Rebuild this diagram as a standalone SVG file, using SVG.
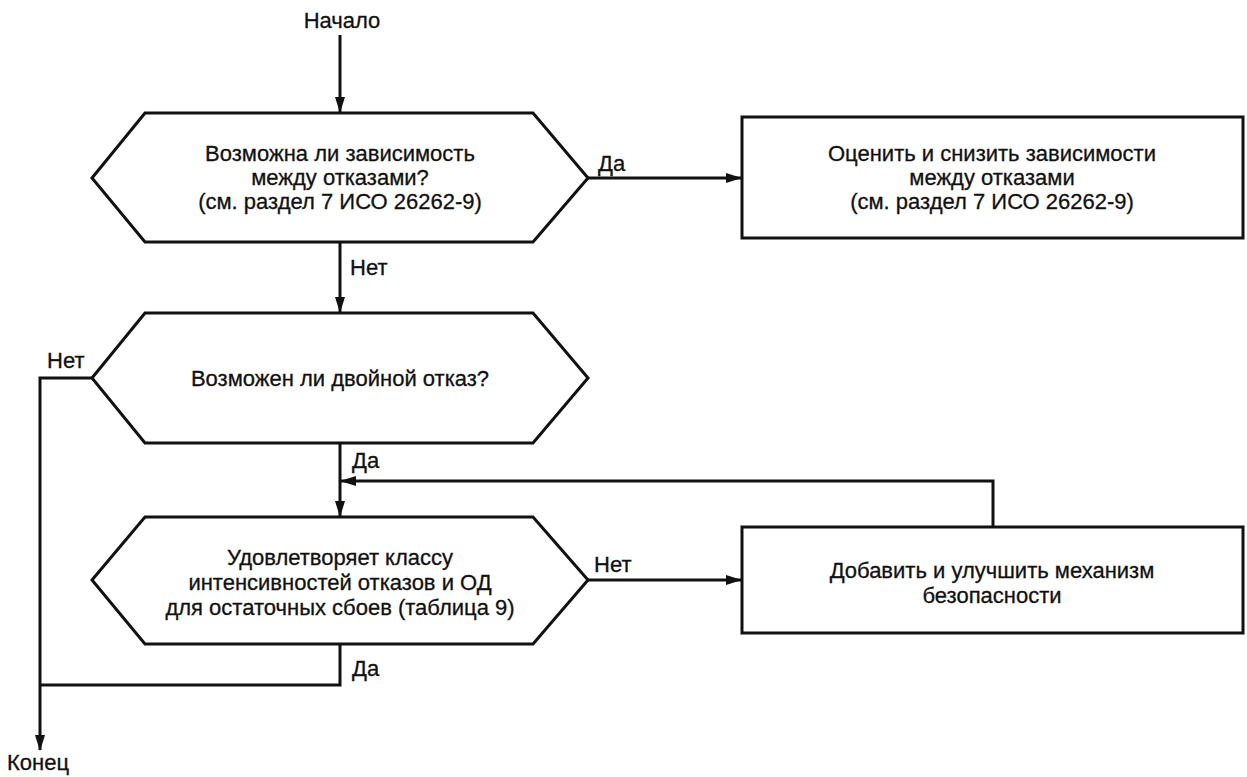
<svg xmlns="http://www.w3.org/2000/svg" width="1247" height="777" viewBox="0 0 1247 777">
<defs>
<style>
.shape{fill:#fff;stroke:#111;stroke-width:3;stroke-linejoin:miter}
.ln{fill:none;stroke:#111;stroke-width:3}
.t{font-family:"Liberation Sans",Arial,sans-serif;font-size:22px;fill:#111;stroke:#111;stroke-width:0.3}
.c{text-anchor:middle}
</style>
<marker id="ah" viewBox="0 0 16 10" refX="15" refY="5" markerWidth="16" markerHeight="10" markerUnits="userSpaceOnUse" orient="auto">
<path d="M0,0 L16,5 L0,10 Z" fill="#111"/>
</marker>
</defs>
<rect width="1247" height="777" fill="#fff"/>
<g id="connectors">
<line class="ln" x1="340" y1="35" x2="340" y2="112" marker-end="url(#ah)"/>
<line class="ln" x1="588" y1="178" x2="741" y2="178" marker-end="url(#ah)"/>
<line class="ln" x1="340" y1="242" x2="340" y2="312" marker-end="url(#ah)"/>
<polyline class="ln" points="92,378 40,378 40,750" marker-end="url(#ah)"/>
<line class="ln" x1="340" y1="443" x2="340" y2="516" marker-end="url(#ah)"/>
<polyline class="ln" points="993,527 993,481 341,481" marker-end="url(#ah)"/>
<line class="ln" x1="588" y1="580" x2="741" y2="580" marker-end="url(#ah)"/>
<polyline class="ln" points="340,644 340,685 40,685"/>
<text class="t" x="598" y="171">Да</text>
<text class="t" x="350" y="275">Нет</text>
<text class="t" x="47" y="368">Нет</text>
<text class="t" x="352" y="468">Да</text>
<text class="t" x="594" y="572">Нет</text>
<text class="t" x="352" y="676">Да</text>
</g>
<g id="start"><text class="t c" x="342" y="28">Начало</text></g>
<g id="end"><text class="t" x="7" y="770">Конец</text></g>
<g id="d1">
<polygon class="shape" points="92,178 145,113 533,113 588,178 533,242 145,242"/>
<text class="t c" x="340" y="161">Возможна ли зависимость</text>
<text class="t c" x="340" y="185">между отказами?</text>
<text class="t c" x="340" y="209">(см. раздел 7 ИСО 26262-9)</text>
</g>
<g id="b1">
<rect class="shape" x="742" y="117" width="501" height="121"/>
<text class="t c" x="992" y="161">Оценить и снизить зависимости</text>
<text class="t c" x="992" y="185">между отказами</text>
<text class="t c" x="992" y="209">(см. раздел 7 ИСО 26262-9)</text>
</g>
<g id="d2">
<polygon class="shape" points="92,378 145,313 533,313 588,378 533,443 145,443"/>
<text class="t c" x="340" y="386">Возможен ли двойной отказ?</text>
</g>
<g id="d3">
<polygon class="shape" points="92,580 145,517 533,517 588,580 533,644 145,644"/>
<text class="t c" x="340" y="565">Удовлетворяет классу</text>
<text class="t c" x="340" y="590">интенсивностей отказов и ОД</text>
<text class="t c" x="340" y="615">для остаточных сбоев (таблица 9)</text>
</g>
<g id="b2">
<rect class="shape" x="742" y="527" width="501" height="106"/>
<text class="t c" x="992" y="578">Добавить и улучшить механизм</text>
<text class="t c" x="992" y="603">безопасности</text>
</g>
</svg>
